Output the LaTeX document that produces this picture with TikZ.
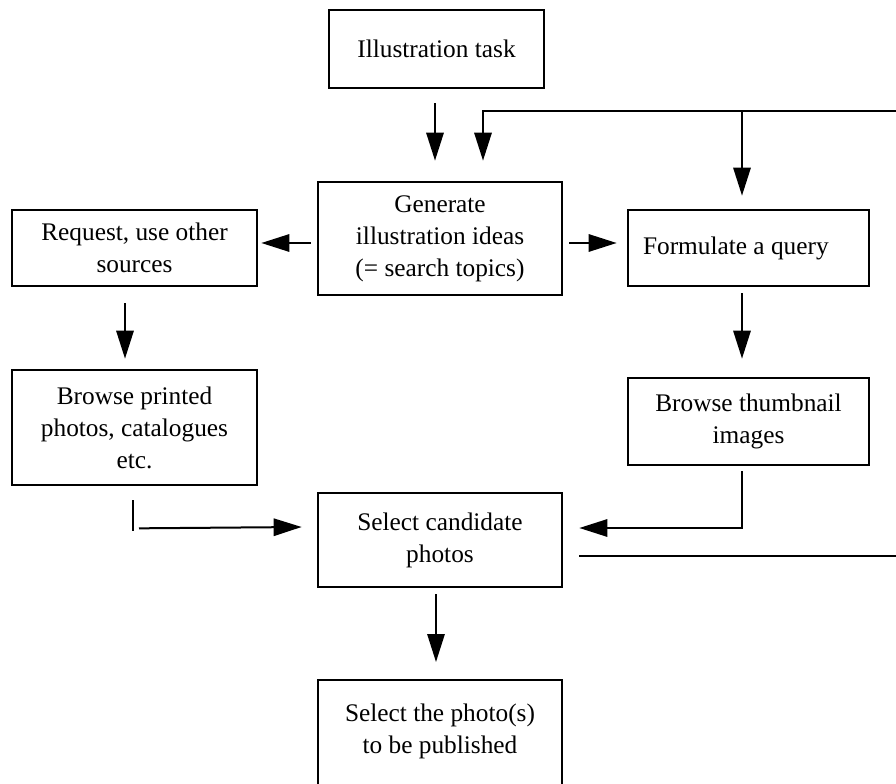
\documentclass[tikz,border=0pt]{standalone}
\usepackage{fontspec}
\setmainfont{Liberation Serif}
\usetikzlibrary{arrows.meta,calc}
\begin{document}
\begin{tikzpicture}[x=0.75pt,y=-0.75pt,
  box/.style={draw, line width=2pt, align=center, inner sep=0pt, font=\fontsize{19}{24}\selectfont},
  txt/.style={align=center, inner sep=0pt, font=\fontsize{19}{24}\selectfont},
  arr/.style={line width=1.5pt, -{Triangle[length=21pt,width=13pt]}},
  ln/.style={line width=1.5pt},
  boxline/.style={line width=2pt}]
\useasboundingbox (0,0) rectangle (896,784);
\fill[white] (0,0) rectangle (896,784);

% boxes
\node[box, minimum width=161.25pt, minimum height=58.5pt] (task) at (436.5,49) {Illustration task};
\node[box, minimum width=183pt, minimum height=84.75pt] (gen) at (440,238.5) {Generate\\illustration ideas\\(= search topics)};
\node[box, minimum width=183.75pt, minimum height=57pt] (req) at (134.5,248) {Request, use other\\sources};
\node[box, minimum width=180.75pt, minimum height=57pt, inner xsep=11.25pt, text width=158.25pt, align=flush left] (form) at (748.5,248) {Formulate a query};
\node[box, minimum width=180.75pt, minimum height=65.25pt] (thumb) at (748.5,421.5) {Browse thumbnail\\images};
\node[box, minimum width=183.75pt, minimum height=86.25pt] (print) at (134.5,427.5) {Browse printed\\photos, catalogues\\etc.};
\node[box, minimum width=183pt, minimum height=70.5pt] (cand) at (440,540) {Select candidate\\photos};
\node[txt] (final) at (440,731) {Select the photo(s)\\to be published};
\draw[boxline] (318,784) |- (562,680) -- (562,784);
\coordinate (ftop) at (440,680);

% loop coordinates
\coordinate (loopR) at (896,111);
\coordinate (br) at (742,111);
\coordinate (candR) at (896,556);

% connectors
\draw[arr] ($(task.south)+(-1.5,14)$) -- ($(gen.north)+(-5,-20)$);
\draw[arr] (loopR) -| ($(gen.north)+(43,-20)$);
\draw[arr] (br) -- ($(form.north)+(-6.5,-13)$);
\draw[arr] ($(gen.west)+(-6,4.5)$) -- ($(req.east)+(3,-5)$);
\draw[arr] ($(gen.east)+(6,4.5)$) -- ($(form.west)+(-10,-5)$);
\draw[arr] ($(form.south)+(-6.5,6)$) -- ($(thumb.north)+(-6.5,-18)$);
\draw[arr] ($(thumb.south)+(-6.5,5)$) |- ($(cand.east)+(16,-12)$);
\draw[ln] ($(cand.east)+(16,16)$) -- (candR);
\draw[arr] ($(req.south)+(-9.5,16)$) -- ($(print.north)+(-9.5,-10)$);
\draw[ln] ($(print.south)+(-1.5,14)$) -- ($(print.south)+(-1.5,45)$);
\draw[arr] ($(print.south)+(4.5,42)$) -- ($(cand.west)+(-15,-13)$);
\draw[arr] ($(cand.south)+(-4,6)$) -- ($(ftop)+(-4,-18)$);
\end{tikzpicture}
\end{document}
